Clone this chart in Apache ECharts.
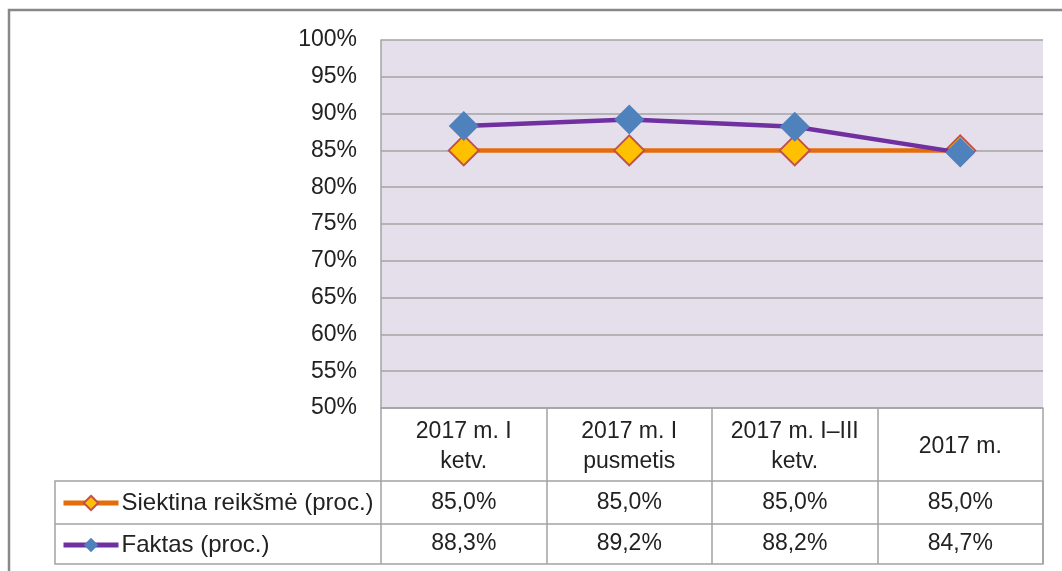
<!DOCTYPE html>
<html>
<head>
<meta charset="utf-8"/>
<title>Siektina reikšmė ir faktas</title>
<script src="https://cdn.jsdelivr.net/npm/echarts@6/dist/echarts.min.js"></script>
<style>
html,body{margin:0;padding:0;background:#fff;}
#main{width:1062px;height:571px;}
</style>
</head>
<body>
<div id="main"></div>
<script type="text/javascript">
// duomenys
var categories = ['2017 m. I\nketv.', '2017 m. I\npusmetis', '2017 m. I–III\nketv.', '2017 m.'];
var seriesNames = ['Siektina reikšmė (proc.)', 'Faktas (proc.)'];
var targetValues = [85.0, 85.0, 85.0, 85.0];
var factValues = [88.3, 89.2, 88.2, 84.7];

// išdėstymas
var W = 1062, H = 571;
var plotLeft = 381, plotRight = 1043, plotTop = 40, plotBottom = 408;
var rowLines = [481, 524, 564];
var tableLeft = 55;
var gridColor = '#a3a3a3';
var textColor = '#222';
var font = 'Liberation Sans';
var fs = 23;

function pct(v){ return v.toFixed(1).replace('.', ',') + '%'; }

var myChart = echarts.init(document.getElementById('main'));
var option = {
    backgroundColor: '#fff',
    textStyle: { fontFamily: font },
    animation: false,
    grid: {
        left: plotLeft,
        right: W - plotRight,
        top: plotTop,
        bottom: H - plotBottom,
        show: true,
        backgroundColor: '#e5dfec',
        borderWidth: 0
    },
    legend: {
        orient: 'vertical',
        left: 61,
        top: 491,
        padding: 0,
        itemGap: 18,
        itemWidth: 55,
        itemHeight: 18,
        lineStyle: { width: 5 },
        textStyle: { fontFamily: font, fontSize: 24, color: textColor, padding: [0, 0, 0, -2] },
        data: seriesNames
    },
    xAxis: [
        {
            type: 'category',
            position: 'bottom',
            data: categories,
            axisLine: { show: true, onZero: false, lineStyle: { color: gridColor, width: 1.5 } },
            axisTick: { show: true, interval: 0, length: rowLines[2] - plotBottom, lineStyle: { color: gridColor, width: 1.5 } },
            axisLabel: {
                interval: 0, margin: 39, verticalAlign: 'middle', lineHeight: 30,
                fontFamily: font, fontSize: fs, color: textColor
            }
        },
        {
            type: 'category',
            position: 'bottom',
            data: targetValues.map(pct),
            axisLine: { show: false, onZero: false },
            axisTick: { show: false },
            axisLabel: {
                interval: 0, margin: (rowLines[0] + rowLines[1]) / 2 - plotBottom, verticalAlign: 'middle',
                fontFamily: font, fontSize: fs, color: textColor
            }
        },
        {
            type: 'category',
            position: 'bottom',
            data: factValues.map(pct),
            axisLine: { show: false, onZero: false },
            axisTick: { show: false },
            axisLabel: {
                interval: 0, margin: (rowLines[1] + rowLines[2]) / 2 - plotBottom, verticalAlign: 'middle',
                fontFamily: font, fontSize: fs, color: textColor
            }
        }
    ],
    yAxis: {
        type: 'value',
        min: 50,
        max: 100,
        interval: 5,
        axisLine: { show: true, lineStyle: { color: gridColor, width: 1.5 } },
        axisTick: { show: false },
        splitLine: { show: true, lineStyle: { color: gridColor, width: 1.5 } },
        axisLabel: {
            margin: 24,
            formatter: '{value}%',
            fontFamily: font, fontSize: fs, color: textColor
        }
    },
    series: [
        {
            name: seriesNames[0],
            type: 'line',
            data: targetValues,
            symbol: 'diamond',
            symbolSize: 30,
            lineStyle: { color: '#e46c0a', width: 4.5 },
            itemStyle: { color: '#ffc000', borderColor: '#c0504d', borderWidth: 2 },
            z: 2
        },
        {
            name: seriesNames[1],
            type: 'line',
            data: factValues,
            symbol: 'diamond',
            symbolSize: 30,
            lineStyle: { color: '#7030a0', width: 4.5 },
            itemStyle: { color: '#4f81bd', borderWidth: 0 },
            z: 3
        }
    ],
    graphic: [
        {
            type: 'rect',
            shape: { x: tableLeft, y: rowLines[0], width: plotRight - tableLeft, height: rowLines[2] - rowLines[0] },
            style: { fill: 'none', stroke: gridColor, lineWidth: 1.5 },
            z: 10
        },
        {
            type: 'line',
            shape: { x1: tableLeft, y1: rowLines[1], x2: plotRight, y2: rowLines[1] },
            style: { stroke: gridColor, lineWidth: 1.5 },
            z: 10
        },
        {
            type: 'rect',
            shape: { x: 9, y: 10, width: W + 20, height: H + 20 },
            style: { fill: 'none', stroke: '#888', lineWidth: 2.5 },
            z: 10
        }
    ]
};
myChart.setOption(option);
window.onresize = function(){ myChart.resize(); };
</script>
</body>
</html>
